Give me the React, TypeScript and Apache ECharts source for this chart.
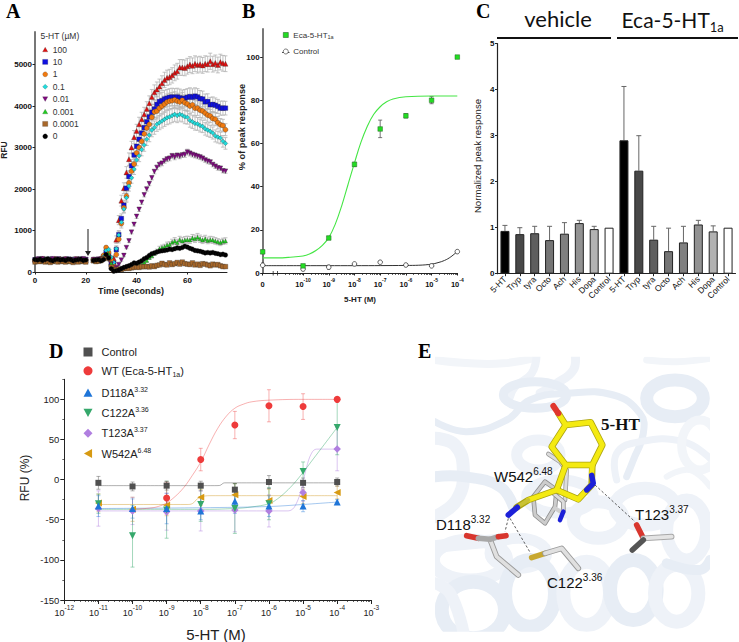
import React, { useEffect, useRef } from "react";
import * as echarts from "echarts";

// ---------- Panel A ----------
const timeA = Array.from({ length: 76 }, (_, i) => i);
const a100 = [300,310,280,320,290,300,270,310,300,290,320,280,300,290,310,280,300,320,290,300,280,null,null,290,280,300,310,390,510,420,230,330,780,1250,1720,2020,2400,2720,3000,3250,3400,3560,3680,3800,3930,4070,4220,4330,4400,4470,4550,4630,4680,4700,4740,4800,4840,4930,4930,4920,4960,5000,4970,5020,4990,5010,4980,5020,5010,5080,5010,5040,4990,5060,5030,5020];
const a10 = [290,300,310,280,300,290,310,280,300,310,290,300,280,310,290,300,280,300,310,290,300,null,null,280,300,290,310,360,480,400,180,210,540,900,1290,1610,2020,2300,2560,2820,3030,3200,3350,3480,3620,3740,3850,3930,4040,4110,4130,4170,4190,4210,4220,4210,4220,4200,4180,4190,4210,4230,4210,4240,4220,4180,4170,4100,4110,4030,4040,4020,3990,3950,3950,3950];
const a1 = [280,300,290,310,300,280,300,290,310,280,300,290,310,300,280,290,310,300,280,300,290,null,null,300,290,280,320,400,590,470,290,150,420,790,1170,1550,1830,2150,2430,2600,2870,3000,3150,3330,3470,3560,3730,3860,3880,3950,4000,4050,4100,4120,4130,4150,4120,4100,4140,4080,4050,4000,4030,3950,3950,3900,3880,3830,3780,3760,3700,3680,3600,3550,3530,3430];
const a01 = [310,290,300,280,310,290,300,310,280,290,300,310,280,300,290,310,290,280,300,290,310,null,null,290,300,280,300,370,520,540,350,230,560,890,1200,1520,1790,2070,2270,2480,2700,2800,2950,3060,3200,3300,3420,3480,3560,3600,3640,3680,3720,3740,3770,3800,3770,3800,3780,3740,3730,3650,3620,3580,3570,3530,3510,3450,3420,3390,3350,3280,3250,3230,3150,3100];
const a001 = [290,310,300,320,280,300,290,320,290,310,280,300,310,290,300,280,310,300,290,320,300,null,null,300,290,310,280,320,350,300,190,60,110,180,290,400,590,750,960,1150,1340,1510,1680,1860,2000,2130,2270,2420,2520,2590,2620,2680,2720,2740,2800,2770,2810,2790,2820,2830,2890,2860,2830,2810,2790,2770,2740,2700,2670,2650,2590,2550,2510,2500,2440,2430];
const a0001 = [270,290,260,280,270,250,280,260,290,270,280,260,270,250,280,260,270,290,260,280,270,null,null,280,260,290,270,340,390,440,210,60,70,60,90,110,130,150,130,190,170,170,180,230,280,350,390,450,500,560,590,610,650,660,720,750,710,780,750,770,780,770,820,800,840,800,770,800,760,780,770,750,730,710,740,750];
const a00001 = [240,260,250,270,240,260,230,250,270,240,260,250,240,270,250,230,260,240,270,250,240,null,null,270,250,260,280,320,380,330,120,40,60,70,60,80,90,85,100,110,120,110,130,125,135,120,150,130,160,170,210,180,170,220,180,200,230,190,240,200,190,180,220,170,190,160,200,190,170,150,190,170,180,150,130,130];
const a0 = [300,290,310,280,300,320,290,270,300,310,290,300,280,310,300,270,290,300,310,280,290,null,null,280,290,300,270,300,420,340,80,20,30,50,80,110,130,150,180,220,210,240,270,320,350,400,440,460,480,500,510,520,530,550,540,560,580,570,590,620,600,570,550,520,510,500,480,460,470,460,470,450,440,420,430,410];
const err100 = [60,90,110,130,130,140,150,150,160,160,170,170,170,175,175,180,180,180,180,180,185,185,185,185,190,190,190,190,190,190,190,190,190,195,190,190,190,190,195,190,190,190,190,190,190];
const err10 = [60,80,100,110,120,130,140,150,160,170,170,180,180,190,190,190,200,200,200,200,210,210,210,210,210,210,210,205,210,210,210,205,200,200,195,190,190,185,180,180,175,170,170,170,165];
const err1 = [50,70,90,110,110,120,130,140,150,150,160,160,170,170,180,180,180,190,190,190,190,190,190,195,195,190,190,190,190,185,185,180,180,175,175,170,170,165,160,160,155,150,150,150,145];
const err01 = [50,70,80,90,100,110,120,130,130,140,140,150,150,150,160,160,160,170,170,170,170,170,170,170,170,170,165,165,165,165,160,160,160,155,155,150,150,150,145,145,145,140,140,140,140];
const err001 = [20,20,20,30,30,30,40,40,40,50,50,50,50,50,50,50,55,55,55,60,60,60,60,60,65,60,60,60,65,70,65,60,60,60,60,60,55,60,55,55,55,55,55,50,50];
const err0001 = [20,20,20,20,20,20,20,25,25,25,30,30,30,40,40,50,50,50,60,60,60,70,70,70,80,80,80,80,85,85,85,85,90,90,90,85,85,80,80,80,80,75,75,75,75];
const legendA = ["100", "10", "1", "0.1", "0.01", "0.001", "0.0001", "0"];
const ticksAx = [0, 20, 40, 60];
const ticksAy = [0, 1000, 2000, 3000, 4000, 5000];

// ---------- Panel B ----------
const doseB = [-11.57, -10, -9, -8, -7, -6, -5, -4];
const ecaB = [9.8, 3.3, 16.2, 50.3, 66.7, 72.8, 80, 100];
const ecaLoB = [9, 2.6, 15.5, 49.3, 62.7, 71.8, 78.4, 99.6];
const ecaHiB = [10.6, 4, 17, 51.3, 70.8, 73.8, 81.7, 100.4];
const ctrlB = [3.6, 1.8, 2.7, 4.2, 5.0, 3.7, 3.3, 9.9];
const ctrlLoB = [3, 1.2, 1.7, 3.6, 4.4, 3, 2.7, 9.3];
const ctrlHiB = [4.6, 2.3, 3.6, 4.8, 5.6, 4.4, 3.9, 10.5];
const ecaCurveX = [-11.57, -11, -10.5, -10, -9.75, -9.5, -9.25, -9, -8.75, -8.5, -8.25, -8, -7.75, -7.5, -7.25, -7, -6.75, -6.5, -6, -5, -4];
const ecaCurveY = [7, 7, 7.3, 7.9, 8.8, 10.4, 12.8, 16.4, 22.5, 31, 41, 51, 60.5, 68, 73.5, 77, 79.3, 80.6, 81.6, 82, 82];
const ctrlCurveX = [-11.57, -10, -8, -6, -5.5, -5, -4.75, -4.5, -4.25, -4];
const ctrlCurveY = [3.4, 3.4, 3.4, 3.5, 3.6, 4.1, 4.8, 5.8, 7.5, 10];
const ticksBy = [0, 20, 40, 60, 80, 100];

// ---------- Panel C ----------
const categoriesC = ["5-HT", "Tryp", "tyra", "Octo", "Ach", "His", "Dopa", "Control", "5-HT", "Tryp", "tyra", "Octo", "Ach", "His", "Dopa", "Control"];
const valuesC = [0.93, 0.86, 0.88, 0.73, 0.87, 1.1, 0.97, 1.0, 2.9, 2.24, 0.74, 0.49, 0.68, 1.07, 0.92, 1.0];
const errTopC = [1.05, 1.0, 1.03, 1.03, 1.11, 1.16, 1.03, null, 4.07, 3.0, 1.03, 0.99, 1.03, 1.16, 1.04, null];
const fillC = ["#000000", "#484848", "#5e5e5e", "#757575", "#808080", "#929292", "#b2b2b2", "#ffffff", "#000000", "#484848", "#5e5e5e", "#757575", "#808080", "#929292", "#b2b2b2", "#ffffff"];

// ---------- Panel D ----------
const doseD = [-11, -10, -9, -8, -7, -6, -5, -4];
const ctrlD = [-4, -8.5, -7.5, -7.5, -12.5, -3, -4, -3];
const ctrlDlo = [-12, -14, -13, -14, -20, -11, -10, -8];
const ctrlDhi = [4, -3, -2, -2, -5, 5, 2, 2];
const wtX = [-9, -8, -7, -6, -5, -4];
const wtD = [-23, 25, 68, 92, 91, 100];
const wtDlo = [-43, 11, 51, 72, 75, 100];
const wtDhi = [-3, 39, 85, 112, 107, 100];
const d118 = [-33, -36, -36, -39, -27, -33, -33, -28];
const d118lo = [-46, -48, -55, -50, -42, -46, -40, -31];
const d118hi = [-20, -24, -17, -22, -12, -20, -26, -25];
const c122 = [-30, -70, -38, -31, -36, -30, 10, 65];
const c122lo = [-42, -109, -73, -52, -67, -50, -2, 31];
const c122hi = [-18, -32, -2, -10, -5, -10, 22, 100];
const t123 = [-36, -39, -40, -39, -38, -39, -16, 38];
const t123lo = [-58, -56, -63, -64, -65, -59, -27, 11];
const t123hi = [-14, -22, -17, -14, -10, -19, -5, 65];
const w542 = [-29, -37, -32, -22, -19, -26, -21, -16];
const w542lo = [-40, -52, -45, -32, -33, -40, -30, -24];
const w542hi = [-18, -22, -20, -12, -5, -12, -12, -8];
const curveCtrlX = [-11, -8, -7.6, -7.45, -7.3, -6, -4];
const curveCtrlY = [-7.5, -7.5, -7.5, -7.3, -4, -4, -4];
const curveWtX = [-10, -9.5, -9.25, -9, -8.75, -8.5, -8.25, -8, -7.75, -7.5, -7.25, -7, -6.75, -6.5, -6, -5, -4];
const curveWtY = [-37, -35.5, -33.5, -29, -21, -10, 5, 22, 44, 64, 79, 89, 94, 97, 99, 100, 100];
const curveD118X = [-11, -8, -6, -5, -4.5, -4];
const curveD118Y = [-36, -35, -33.5, -31, -29.5, -28];
const curveC122X = [-11, -8, -7, -6.5, -6, -5.75, -5.5, -5.25, -5, -4.75, -4.5, -4.25, -4];
const curveC122Y = [-37, -37, -36, -34, -30, -24, -15, -4, 9, 23, 37, 51, 65];
const curveT123X = [-11, -5.5, -5.35, -5.2, -5.05, -4.9, -4.75, -4.6, -4];
const curveT123Y = [-39, -39, -38, -30, -12, 15, 33, 38, 38];
const curveW542X = [-11, -8.4, -8.25, -8.1, -7.9, -7.7, -4];
const curveW542Y = [-31, -31, -30, -24, -20.5, -20, -20];
const ticksDx = [-12, -11, -10, -9, -8, -7, -6, -5, -4, -3];
const ticksDy = [-150, -100, -50, 0, 50, 100];
const ticksDyMinor = [-125, -75, -25, 25, 75, 125];

// ---------- shapes ----------
const downTri = "path://M0,0 L10,0 L5,9 Z";
const upTri = "path://M5,0 L10,9 L0,9 Z";
const leftTri = "path://M0,5 L9,0 L9,10 Z";

const SANS = "Liberation Sans";
const SERIF = "Liberation Serif";

const logMinor = (from: number, to: number) => {
  const out: number[] = [];
  for (let d = from; d < to; d++) for (let k = 2; k < 10; k++) out.push(d + Math.log10(k));
  return out;
};

const errorSeries = (xAxisIndex: number, yAxisIndex: number, data: (number | null)[][], color: string, cap: number, width = 0.8, z = 1) => ({
  type: "custom",
  xAxisIndex,
  yAxisIndex,
  z,
  silent: true,
  clip: false,
  data,
  encode: { x: 0, y: [1, 2] },
  renderItem: (_: any, api: any) => {
    const x = api.value(0);
    const a = api.coord([x, api.value(1)]);
    const b = api.coord([x, api.value(2)]);
    const st = { stroke: color, lineWidth: width };
    return {
      type: "group",
      children: [
        { type: "line", shape: { x1: a[0], y1: a[1], x2: b[0], y2: b[1] }, style: st },
        { type: "line", shape: { x1: a[0] - cap, y1: a[1], x2: a[0] + cap, y2: a[1] }, style: st },
        { type: "line", shape: { x1: b[0] - cap, y1: b[1], x2: b[0] + cap, y2: b[1] }, style: st },
      ],
    };
  },
});

const zipLoHi = (xs: number[], lo: (number | null)[], hi: (number | null)[]) => xs.map((x, i) => [x, lo[i], hi[i]]);
const pairs = (xs: number[], ys: (number | null)[]) => xs.map((x, i) => [x, ys[i]]);

const errorsA = (ys: (number | null)[], errs: number[] | null) => {
  const out: number[][] = [];
  ys.forEach((y, t) => {
    if (y == null) return;
    const e = t >= 31 && errs ? errs[t - 31] : 35;
    out.push([t, y - e, y + e]);
  });
  return out;
};

const Z = (x: number, y: number) => [400 + x / 3, 330 + y / 3];
const ZZ = (pts: number[][]) => pts.map((p) => Z(p[0], p[1]));

const ribbon = (pts: number[][], width: number, color: string) => ({
  type: "polyline",
  shape: { points: ZZ(pts), smooth: 0.45 },
  style: { stroke: color, lineWidth: width, lineCap: "round", lineJoin: "round", fill: null },
});
const ringE = (cx: number, cy: number, rx: number, ry: number, width: number, color: string, rot = 0) => {
  const c = Z(cx, cy);
  return {
    type: "ellipse",
    x: c[0],
    y: c[1],
    rotation: rot,
    shape: { cx: 0, cy: 0, rx: rx / 3, ry: ry / 3 },
    style: { stroke: color, lineWidth: width, fill: null },
  };
};
const stick = (pts: number[][], color: string, width = 4.4) => ({
  type: "polyline",
  shape: { points: ZZ(pts) },
  style: { stroke: color, lineWidth: width, lineCap: "round", lineJoin: "round", fill: null },
});
const dash = (a: number[], b: number[]) => {
  const p = Z(a[0], a[1]);
  const q = Z(b[0], b[1]);
  return {
    type: "line",
    shape: { x1: p[0], y1: p[1], x2: q[0], y2: q[1] },
    style: { stroke: "#333", lineWidth: 0.8, lineDash: [2.5, 2] },
  };
};
const label = (x: number, y: number, main: string, sup: string) => ({
  type: "text",
  x,
  y,
  style: {
    text: `{a|${main}}{b|${sup}}`,
    rich: {
      a: { fontFamily: SANS, fontSize: 15, fill: "#111", lineHeight: 18, verticalAlign: "bottom" },
      b: { fontFamily: SANS, fontSize: 10, fill: "#111", lineHeight: 18, verticalAlign: "top" },
    },
    verticalAlign: "middle",
    textVerticalAlign: "middle",
  },
});
const plain = (x: number, y: number, text: string, font: string, fill = "#000", align = "left", rotation = 0) => ({
  type: "text",
  x,
  y,
  rotation,
  style: { text, font, fill, align, textAlign: align, verticalAlign: "middle", textVerticalAlign: "middle" },
});
const seg = (x1: number, y1: number, x2: number, y2: number, stroke: string, lineWidth: number) => ({
  type: "line",
  shape: { x1, y1, x2, y2 },
  style: { stroke, lineWidth },
});

const buildPanelE = () => {
  const c1 = "#eef2f8";
  const c2 = "#e7edf5";
  const c3 = "#f2f5f9";
  const w = 13;
  return [
    ribbon([[105, 90], [210, 100], [310, 100], [400, 85]], 8, c3),
    ribbon([[410, 70], [395, 130], [345, 170], [330, 200]], 8, c1),
    ribbon([[525, 70], [520, 120], [470, 160], [420, 190]], 9, c1),
    ringE(405, 195, 95, 40, 9, c2),
    ribbon([[105, 275], [200, 305], [320, 270], [390, 210], [500, 190], [640, 195], [720, 250], [730, 310], [700, 390], [680, 440]], 7, c2),
    ringE(825, 205, 85, 55, w, c2),
    ribbon([[740, 90], [830, 95], [930, 85]], 7, c3),
    ribbon([[650, 450], [650, 370], [720, 335], [850, 335], [930, 385]], 7, c1),
    ringE(900, 345, 55, 75, 9, c3),
    ribbon([[800, 440], [870, 420], [930, 470]], 6, c3),
    ribbon([[105, 325], [165, 345], [190, 420], [170, 510], [105, 560]], w, c1),
    ringE(415, 375, 65, 45, 11, c1),
    ribbon([[105, 440], [190, 440], [300, 470], [340, 530]], 11, c2),
    ringE(480, 500, 100, 50, 11, c1),
    ringE(595, 570, 75, 55, w, c1),
    ringE(735, 530, 90, 55, w, c1),
    ringE(210, 690, 110, 60, w, c1),
    ribbon([[105, 650], [200, 640], [310, 630]], w, c1),
    ringE(355, 670, 85, 45, 11, c1),
    ringE(220, 840, 95, 85, 14, c2),
    ringE(390, 790, 75, 100, 14, c2),
    ringE(560, 790, 70, 95, 14, c1),
    ringE(700, 780, 70, 90, 14, c2),
    ringE(830, 790, 65, 85, 14, c1),
    ringE(860, 600, 60, 90, w, c1),
    ribbon([[800, 700], [900, 720], [930, 690]], 10, c2),
    ribbon([[105, 760], [150, 790], [190, 905]], 12, c1),
    { type: "rect", shape: { x: 375, y: 335, width: 60, height: 307 }, style: { fill: "#fff" } },
    { type: "rect", shape: { x: 375, y: 335, width: 364, height: 21.7 }, style: { fill: "#fff" } },
    { type: "rect", shape: { x: 710, y: 335, width: 29, height: 307 }, style: { fill: "#fff" } },
    { type: "rect", shape: { x: 375, y: 631.7, width: 364, height: 10.3 }, style: { fill: "#fff" } },
    // W542, grey
    stick([[445, 372], [480, 395], [500, 420], [495, 510]], "#9a9a9a", 4.6),
    stick([[445, 372], [480, 395], [500, 420], [495, 510]], "#dcdcdc", 3),
    stick([[400, 500], [435, 455], [470, 480], [465, 530], [435, 580], [405, 555], [400, 500]], "#8c8c8c", 4.6),
    stick([[400, 500], [435, 455], [470, 480], [465, 530], [435, 580], [405, 555], [400, 500]], "#cccccc", 3),
    stick([[460, 490], [490, 515], [490, 545]], "#8c8c8c", 4.6),
    stick([[460, 490], [490, 515], [490, 545]], "#dcdcdc", 3),
    stick([[465, 535], [482, 545]], "#cfcfcf", 4),
    stick([[490, 545], [480, 570]], "#1c20d8", 4.6),
    // 5-HT, yellow
    stick([[497, 285], [572, 277], [607, 345], [577, 405], [497, 405], [455, 350], [497, 285]], "#aca410", 6.6),
    stick([[497, 405], [470, 480], [535, 508], [575, 465], [577, 405]], "#aca410", 6.6),
    stick([[470, 480], [385, 510], [350, 532]], "#aca410", 6.6),
    stick([[497, 285], [475, 250]], "#aca410", 6.6),
    stick([[497, 285], [572, 277], [607, 345], [577, 405], [497, 405], [455, 350], [497, 285]], "#f4ea12", 5),
    stick([[497, 405], [470, 480], [535, 508], [560, 480]], "#f4ea12", 5),
    stick([[577, 405], [575, 432]], "#f4ea12", 5),
    stick([[470, 480], [385, 510]], "#f4ea12", 5),
    stick([[385, 510], [358, 527]], "#c9c234", 4),
    stick([[497, 285], [475, 250]], "#f4ea12", 5),
    stick([[475, 250], [460, 228]], "#e0362e", 6),
    stick([[575, 436], [580, 460], [560, 480]], "#1c20d8", 5.4),
    stick([[352, 532], [325, 555]], "#1c20d8", 5.6),
    // D118
    stick([[270, 628], [290, 680], [355, 735]], "#9a9a9a", 5.6),
    stick([[270, 628], [290, 680], [355, 735]], "#e0e0e0", 3.8),
    stick([[200, 617], [235, 625]], "#d8362e", 5.6),
    stick([[235, 625], [270, 628], [295, 620]], "#a8a8a8", 5.6),
    stick([[295, 620], [318, 617]], "#d8362e", 5.6),
    // C122
    stick([[395, 683], [435, 670]], "#c8a830", 5.6),
    stick([[435, 670], [485, 655], [535, 715]], "#9a9a9a", 5.6),
    stick([[435, 670], [485, 655], [535, 715]], "#e0e0e0", 3.8),
    // T123
    stick([[710, 585], [730, 625]], "#d8362e", 5.6),
    stick([[730, 625], [815, 620]], "#a8a8a8", 5.6),
    stick([[730, 625], [815, 620]], "#e4e4e4", 3.8),
    stick([[730, 630], [697, 660]], "#555", 5.6),
    // contacts
    dash([325, 565], [315, 605]),
    dash([330, 565], [392, 670]),
    dash([585, 465], [705, 575]),
    // labels
    plain(601, 424, "5-HT", `bold 17px ${SERIF}`, "#111"),
    label(494, 475, "W542", "6.48"),
    label(436, 523, "D118", "3.32"),
    label(635, 513, "T123", "3.37"),
    label(547, 581, "C122", "3.36"),
  ];
};

const buildOption = () => {
  const axisBold = { fontFamily: SANS, fontWeight: "bold", fontSize: 8, color: "#111" };
  const blackLine = { show: true, onZero: false, lineStyle: { color: "#222", width: 1 } };
  const greyLine = { show: true, onZero: false, lineStyle: { color: "#777", width: 2 } };
  const tick = (customValues: number[], length = 2.5, color = "#222") => ({ show: true, customValues, length, lineStyle: { color, width: 1 } });
  const ghost = (gridIndex: number, min: number, max: number, values: number[], position: string) => ({
    type: "value",
    gridIndex,
    min,
    max,
    position,
    axisLine: { show: false, onZero: false },
    splitLine: { show: false },
    axisLabel: { show: false },
    axisTick: { show: true, customValues: values, length: 2, lineStyle: { color: "#222", width: 0.7 } },
  });
  const supRich = (size: number, supSize: number, weight: string, color: string) => ({
    b: { fontFamily: SANS, fontSize: size, fontWeight: weight, color, lineHeight: size + 4, verticalAlign: "bottom" },
    s: { fontFamily: SANS, fontSize: supSize, fontWeight: weight, color, lineHeight: size + 4, verticalAlign: "top" },
  });
  const asIs = (v: number) => String(v);

  const xAxis: any[] = [
    {
      type: "value", gridIndex: 0, min: 0, max: 75.6,
      axisLine: blackLine, splitLine: { show: false },
      axisTick: tick(ticksAx),
      axisLabel: { ...axisBold, customValues: ticksAx, margin: 4, formatter: asIs },
    },
    {
      type: "value", gridIndex: 1, min: -11.57, max: -4,
      axisLine: blackLine, splitLine: { show: false },
      axisTick: tick(doseB),
      axisLabel: {
        customValues: doseB, margin: 4,
        formatter: (v: number) => (v < -11 ? "{b|0}" : `{b|10}{s|${Math.round(v)}}`),
        rich: supRich(7.5, 5, "bold", "#111"),
      },
    },
    ghost(1, -11.57, -4, logMinor(-11, -4), "bottom"),
    {
      type: "category", gridIndex: 2, data: categoriesC,
      axisLine: { show: true, onZero: false, lineStyle: { color: "#222", width: 1.2 } },
      axisTick: { show: true, alignWithLabel: true, length: 2.5, lineStyle: { color: "#222" } },
      axisLabel: { interval: 0, rotate: 45, fontFamily: SANS, fontSize: 8.5, color: "#111", margin: 4 },
    },
    {
      type: "value", gridIndex: 3, min: -12, max: -3,
      axisLine: blackLine, splitLine: { show: false },
      axisTick: tick(ticksDx, 4),
      axisLabel: {
        customValues: ticksDx, margin: 4,
        formatter: (v: number) => `{b|10}{s|${Math.round(v)}}`,
        rich: supRich(9, 6.5, "normal", "#222"),
      },
    },
    ghost(3, -12, -3, logMinor(-12, -3), "bottom"),
  ];
  const yAxis: any[] = [
    {
      type: "value", gridIndex: 0, min: 0, max: 5785,
      axisLine: greyLine, splitLine: { show: false },
      axisTick: tick(ticksAy),
      axisLabel: { ...axisBold, customValues: ticksAy, margin: 3, formatter: asIs },
    },
    {
      type: "value", gridIndex: 1, min: 0, max: 113,
      axisLine: greyLine, splitLine: { show: false },
      axisTick: tick(ticksBy),
      axisLabel: { ...axisBold, customValues: ticksBy, margin: 3, formatter: asIs },
    },
    {
      type: "value", gridIndex: 2, min: 0, max: 5, interval: 1,
      axisLine: { show: true, onZero: false, lineStyle: { color: "#222", width: 1.2 } },
      splitLine: { show: false },
      axisTick: { show: true, length: 2.5, lineStyle: { color: "#222" } },
      axisLabel: { ...axisBold, margin: 3, formatter: asIs },
    },
    {
      type: "value", gridIndex: 3, min: -150, max: 125,
      axisLine: blackLine, splitLine: { show: false },
      axisTick: tick(ticksDy, 4),
      axisLabel: { fontFamily: SANS, fontSize: 9.5, color: "#222", customValues: ticksDy, margin: 5, formatter: asIs },
    },
    ghost(3, -150, 125, ticksDyMinor, "left"),
  ];

  const grid = [
    { left: 35, top: 32, width: 192, height: 240 },
    { left: 262.7, top: 29, width: 194.6, height: 244 },
    { left: 497.5, top: 43.7, width: 238, height: 230 },
    { left: 64.3, top: 379.3, width: 307, height: 220.7 },
  ];

  const specA: [string, (number | null)[], number[] | null, string, string, number][] = [
    ["100", a100, err100, upTri, "#e01010", 5],
    ["10", a10, err10, "rect", "#1010e0", 4.6],
    ["1", a1, err1, "circle", "#f07a10", 5],
    ["0.1", a01, err01, "diamond", "#20dcdc", 4.6],
    ["0.01", a001, err001, downTri, "#800a80", 4.6],
    ["0.001", a0001, err0001, upTri, "#20cc20", 4],
    ["0.0001", a00001, null, "rect", "#a8682a", 4.6],
    ["0", a0, null, "circle", "#000000", 4.6],
  ];
  const series: any[] = [];
  specA.forEach(([, ys, errs]) => {
    if (errs) series.push(errorSeries(0, 0, errorsA(ys, errs), "#b4b4b4", 2, 0.8));
    else series.push(errorSeries(0, 0, errorsA(ys, null), "#b4b4b4", 1.5, 0.6));
  });
  specA.forEach(([name, ys, , sym, color, size]) => {
    series.push({
      type: "scatter", name, xAxisIndex: 0, yAxisIndex: 0, z: 2, symbol: sym, symbolSize: size,
      itemStyle: { color, borderColor: "#222", borderWidth: 0.3, opacity: 1 },
      data: pairs(timeA, ys).filter((p) => p[1] != null),
    });
  });

  // B
  const curve = (xi: number, yi: number, xs: number[], ys: number[], color: string, width: number, z = 1) => ({
    type: "line", xAxisIndex: xi, yAxisIndex: yi, showSymbol: false, symbol: "none", smooth: 0.4, z, silent: true,
    lineStyle: { color, width }, data: pairs(xs, ys),
  });
  series.push(curve(1, 1, ecaCurveX, ecaCurveY, "#44e644", 1.1));
  series.push(curve(1, 1, ctrlCurveX, ctrlCurveY, "#333", 1));
  series.push(errorSeries(1, 1, zipLoHi(doseB, ecaLoB, ecaHiB), "#555", 2, 0.8));
  series.push(errorSeries(1, 1, zipLoHi(doseB, ctrlLoB, ctrlHiB), "#555", 1.5, 0.8));
  series.push({
    type: "scatter", name: "B:Control", xAxisIndex: 1, yAxisIndex: 1, z: 2, symbol: "circle", symbolSize: 4.6,
    itemStyle: { color: "#fff", borderColor: "#222", borderWidth: 0.7, opacity: 1 }, data: pairs(doseB, ctrlB),
  });
  series.push({
    type: "scatter", name: "B:Eca", xAxisIndex: 1, yAxisIndex: 1, z: 3, symbol: "rect", symbolSize: 4.6,
    itemStyle: { color: "#22dd22", borderColor: "#2a6a2a", borderWidth: 0.5, opacity: 1 }, data: pairs(doseB, ecaB),
  });

  // C
  series.push({
    type: "bar", xAxisIndex: 3, yAxisIndex: 2, barWidth: 9, z: 2,
    data: valuesC.map((v, i) => ({ value: v, itemStyle: { color: fillC[i], borderColor: "#222", borderWidth: 1 } })),
  });
  series.push({
    type: "custom", xAxisIndex: 3, yAxisIndex: 2, z: 1, silent: true, clip: false,
    data: valuesC.map((v, i) => [i, v, errTopC[i]]).filter((d) => d[2] != null),
    encode: { x: 0, y: [1, 2] },
    renderItem: (_: any, api: any) => {
      const a = api.coord([api.value(0), api.value(1)]);
      const b = api.coord([api.value(0), api.value(2)]);
      const st = { stroke: "#666", lineWidth: 1 };
      return {
        type: "group",
        children: [
          { type: "line", shape: { x1: a[0], y1: a[1], x2: b[0], y2: b[1] }, style: st },
          { type: "line", shape: { x1: b[0] - 2.5, y1: b[1], x2: b[0] + 2.5, y2: b[1] }, style: st },
        ],
      };
    },
  });

  // D
  const specD: [string, number[], (number | null)[], (number | null)[], (number | null)[], number[], number[], string, number, string, string][] = [
    ["W542", doseD, w542, w542lo, w542hi, curveW542X, curveW542Y, leftTri, 7, "#d79a12", "rgba(215,165,60,0.5)"],
    ["T123", doseD, t123, t123lo, t123hi, curveT123X, curveT123Y, "diamond", 7.5, "#b07fe0", "rgba(176,127,224,0.45)"],
    ["C122", doseD, c122, c122lo, c122hi, curveC122X, curveC122Y, downTri, 7, "#35a86b", "rgba(53,168,107,0.45)"],
    ["D118", doseD, d118, d118lo, d118hi, curveD118X, curveD118Y, upTri, 7, "#1f75d8", "rgba(31,117,216,0.4)"],
    ["WT", wtX, wtD, wtDlo, wtDhi, curveWtX, curveWtY, "circle", 7, "#ee3b3b", "rgba(238,59,59,0.4)"],
    ["Control", doseD, ctrlD, ctrlDlo, ctrlDhi, curveCtrlX, curveCtrlY, "rect", 6, "#505050", "rgba(80,80,80,0.45)"],
  ];
  specD.forEach(([, xs, , lo, hi, cx, cy, , , , pale]) => {
    series.push(curve(4, 3, cx, cy, pale, 1));
    series.push(errorSeries(4, 3, zipLoHi(xs, lo, hi), pale, 2, 1));
  });
  specD.forEach(([name, xs, ys, , , , , sym, size, color]) => {
    series.push({
      type: "scatter", name, xAxisIndex: 4, yAxisIndex: 3, z: 3, symbol: sym, symbolSize: size,
      itemStyle: { color, opacity: 1 }, data: pairs(xs, ys),
    });
  });

  const legendFontA = { fontFamily: SANS, fontSize: 8.5, color: "#333" };
  const legend: any[] = [
    {
      left: 42.5, top: 45, orient: "vertical", selectedMode: false, itemWidth: 5.2, itemHeight: 5, itemGap: 3.4, padding: 0,
      itemStyle: { borderWidth: 0.2 },
      textStyle: { ...legendFontA, lineHeight: 9 },
      data: legendA.map((name, i) => ({ name, icon: i === 0 || i === 5 ? upTri : i === 4 ? downTri : i === 3 ? "diamond" : i === 2 || i === 7 ? "circle" : "rect" })),
    },
    {
      left: 283, top: 31, orient: "vertical", selectedMode: false, itemWidth: 5, itemHeight: 5, itemGap: 7.5, padding: 0,
      itemStyle: { borderWidth: 0.6 },
      data: [{ name: "B:Eca", icon: "rect" }, { name: "B:Control", icon: "circle" }],
      formatter: (n: string) => (n === "B:Eca" ? "{a|Eca-5-HT}{s|1a}" : "{a|Control}"),
      textStyle: {
        rich: {
          a: { fontFamily: SANS, fontSize: 8, color: "#333", lineHeight: 10 },
          s: { fontFamily: SANS, fontSize: 5.5, color: "#333", lineHeight: 10, verticalAlign: "bottom" },
        },
      },
    },
    {
      left: 83.5, top: 346.5, orient: "vertical", selectedMode: false, itemWidth: 9, itemHeight: 9, itemGap: 7.8, padding: 0,
      data: [
        { name: "Control", icon: "rect" },
        { name: "WT", icon: "circle" },
        { name: "D118", icon: upTri },
        { name: "C122", icon: downTri },
        { name: "T123", icon: "diamond" },
        { name: "W542", icon: leftTri },
      ],
      formatter: (n: string) => {
        const m: Record<string, string> = {
          Control: "{p| }{a|Control}",
          WT: "{p| }{a|WT (Eca-5-HT}{d|1a}{a|)}",
          D118: "{p| }{a|D118A}{u|3.32}",
          C122: "{p| }{a|C122A}{u|3.36}",
          T123: "{p| }{a|T123A}{u|3.37}",
          W542: "{p| }{a|W542A}{u|6.48}",
        };
        return m[n];
      },
      textStyle: {
        rich: {
          p: { width: 4, fontSize: 4, lineHeight: 14 },
          a: { fontFamily: SANS, fontSize: 11, color: "#222", lineHeight: 14 },
          d: { fontFamily: SANS, fontSize: 7, color: "#222", lineHeight: 14, verticalAlign: "bottom" },
          u: { fontFamily: SANS, fontSize: 7, color: "#222", lineHeight: 14, verticalAlign: "top" },
        },
      },
    },
  ];

  const graphicEls: any[] = [
    ...buildPanelE(),
    plain(6, 11, "A", `bold 20px ${SERIF}`),
    plain(242, 11, "B", `bold 20px ${SERIF}`),
    plain(476, 11, "C", `bold 20px ${SERIF}`),
    plain(49, 351, "D", `bold 20px ${SERIF}`),
    plain(418, 351, "E", `bold 20px ${SERIF}`),
    plain(40.5, 35.5, "5-HT (µM)", `8.5px ${SANS}`, "#333"),
    plain(131, 291, "Time (seconds)", `bold 9px ${SANS}`, "#222", "center"),
    plain(4, 150, "RFU", `bold 8.5px ${SANS}`, "#222", "center", Math.PI / 2),
    seg(88, 229, 88, 252, "#666", 1.5),
    { type: "polygon", shape: { points: [[85, 251], [91, 251], [88, 256]] }, style: { fill: "#222" } },
    plain(242, 127, "% of peak response", `bold 9.2px ${SANS}`, "#222", "center", Math.PI / 2),
    plain(360, 299, "5-HT (M)", `bold 8px ${SANS}`, "#222", "center"),
    { type: "rect", shape: { x: 273.5, y: 271, width: 3.6, height: 5 }, style: { fill: "#fff" } },
    seg(273.2, 271, 273.2, 275.5, "#222", 0.8),
    seg(277.5, 271, 277.5, 275.5, "#222", 0.8),
    seg(282, 52.5, 289.5, 52.5, "#222", 0.8),
    plain(477, 156, "Normalized peak response", `9.6px ${SANS}`, "#222", "center", Math.PI / 2),
    plain(558, 18.5, "vehicle", `22px Lato`, "#111", "center"),
    {
      type: "text", x: 621.5, y: 19,
      style: {
        text: "{a|Eca-5-HT}{s|1a}",
        rich: {
          a: { fontFamily: "Lato", fontSize: 21, fill: "#111", lineHeight: 28, verticalAlign: "middle" },
          s: { fontFamily: "Lato", fontSize: 13, fill: "#111", lineHeight: 28, verticalAlign: "bottom" },
        },
        verticalAlign: "middle", textVerticalAlign: "middle",
      },
    },
    seg(497, 38, 611, 38, "#111", 2.2),
    seg(617, 38, 738, 38, "#111", 2.2),
    plain(25, 478, "RFU (%)", `12px ${SANS}`, "#222", "center", Math.PI / 2),
    plain(216, 634, "5-HT (M)", `15px ${SANS}`, "#222", "center"),
  ];

  return {
    animation: false,
    backgroundColor: "#ffffff",
    textStyle: { fontFamily: SANS },
    grid,
    xAxis,
    yAxis,
    legend,
    series,
    graphic: { elements: graphicEls },
  };
};

export default function App() {
  const ref = useRef<HTMLDivElement>(null);
  useEffect(() => {
    document.body.style.margin = "0";
    const chart = echarts.init(ref.current as HTMLDivElement, undefined, { renderer: "svg" });
    chart.setOption(buildOption() as any);
    return () => chart.dispose();
  }, []);
  return <div ref={ref} style={{ position: "absolute", left: 0, top: 0, width: 739, height: 642, background: "#fff" }} />;
}
